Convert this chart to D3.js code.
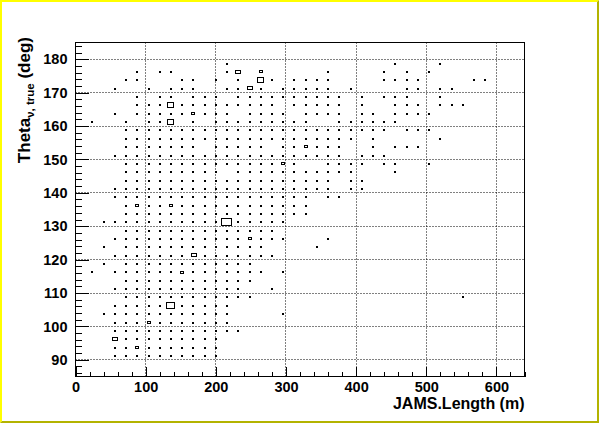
<!DOCTYPE html>
<html>
<head>
<meta charset="utf-8">
<script src="https://cdn.jsdelivr.net/npm/d3@7"></script>
<style>
  body { margin: 0; background: #fff; }
  svg { display: block; }
  text { font-family: "Liberation Sans", Arial, Helvetica, sans-serif; font-weight: bold; }
</style>
</head>
<body>
<div class="chart-div"></div>
<script>
// histogram binning of JAMS.Length (m) vs Theta_nu,true (deg)
var lengthMin = 0, lengthMax = 640, lengthBin = 16;
var thetaMin = 85, thetaMax = 185, thetaBin = 2.5;

var xTicks = [0, 100, 200, 300, 400, 500, 600];
var yTicks = [90, 100, 110, 120, 130, 140, 150, 160, 170, 180];

// filled cells, one entry per theta bin: [theta bin index, [length bin indices]]
var cellRows = [
  [37, [13, 28, 32]],
  [36, [5, 7, 8, 13, 14, 16, 22, 27, 29, 31]],
  [35, [4, 5, 9, 10, 12, 14, 16, 17, 19, 20, 21, 22, 27, 28, 29, 30, 35, 36]],
  [34, [3, 6, 8, 9, 10, 13, 14, 15, 16, 18, 19, 20, 21, 22, 24, 29, 30, 32, 33]],
  [33, [5, 7, 8, 10, 11, 12, 14, 15, 16, 17, 18, 19, 20, 21, 22, 23, 25, 27, 28, 29, 32]],
  [32, [5, 6, 7, 8, 9, 10, 11, 12, 13, 14, 15, 16, 17, 19, 20, 21, 22, 23, 25, 28, 29, 30, 32, 33, 34]],
  [31, [3, 5, 6, 7, 8, 9, 10, 11, 12, 13, 15, 16, 17, 18, 20, 21, 22, 23, 25, 26, 28, 29, 30, 31]],
  [30, [1, 4, 6, 7, 8, 10, 12, 13, 14, 15, 16, 17, 18, 19, 20, 23, 24, 25, 26, 27, 28]],
  [29, [4, 5, 6, 7, 8, 9, 10, 11, 12, 13, 14, 15, 16, 17, 18, 19, 20, 21, 22, 23, 24, 25, 26, 27, 29, 30, 31]],
  [28, [4, 5, 6, 7, 8, 9, 10, 11, 12, 13, 14, 15, 16, 17, 18, 19, 20, 21, 22, 23, 24, 26, 32]],
  [27, [4, 5, 6, 7, 8, 9, 10, 12, 13, 14, 15, 16, 18, 19, 20, 21, 22, 23, 26, 28, 29, 30]],
  [26, [3, 4, 5, 6, 7, 8, 9, 10, 11, 12, 13, 14, 15, 16, 17, 18, 19, 20, 21, 22, 23, 25, 26, 27]],
  [25, [4, 5, 6, 7, 8, 9, 10, 11, 12, 13, 14, 15, 16, 17, 18, 19, 22, 23, 24, 25, 27, 28, 31]],
  [24, [4, 5, 6, 7, 8, 9, 10, 11, 12, 14, 15, 16, 17, 18, 19, 20, 21, 22, 23, 24, 28]],
  [23, [4, 5, 6, 7, 8, 9, 10, 11, 12, 13, 14, 15, 16, 17, 18, 19, 20, 21, 22, 24, 25]],
  [22, [3, 4, 5, 6, 7, 8, 9, 10, 11, 12, 13, 14, 15, 16, 17, 18, 19, 20, 21, 22, 24, 25]],
  [21, [3, 4, 5, 6, 7, 8, 9, 10, 11, 12, 13, 14, 15, 16, 17, 18, 19, 20, 22, 23]],
  [20, [4, 5, 6, 7, 8, 9, 10, 11, 12, 13, 14, 15, 16, 17, 18, 19, 20]],
  [19, [4, 5, 6, 7, 8, 9, 10, 11, 12, 13, 14, 15, 16, 17, 18, 19, 20]],
  [18, [2, 3, 4, 5, 6, 7, 8, 9, 10, 11, 12, 13, 14, 15, 16, 17, 18]],
  [17, [4, 5, 6, 7, 8, 9, 10, 11, 12, 13, 14, 15, 16, 17]],
  [16, [3, 4, 5, 6, 7, 8, 9, 10, 11, 12, 13, 14, 15, 16, 17, 18, 22]],
  [15, [2, 4, 5, 6, 7, 8, 9, 10, 11, 12, 13, 14, 15, 16, 21]],
  [14, [3, 4, 5, 6, 7, 8, 9, 10, 11, 12, 13, 14, 15, 16, 17]],
  [13, [2, 4, 5, 6, 7, 8, 9, 10, 11, 12, 13, 14, 15]],
  [12, [1, 3, 4, 5, 6, 7, 8, 9, 10, 11, 12, 13, 14, 15, 16, 18]],
  [11, [4, 5, 6, 7, 8, 9, 10, 11, 12, 13, 14, 15]],
  [10, [3, 4, 5, 6, 7, 8, 9, 10, 11, 12, 13, 14, 17]],
  [9, [4, 5, 6, 7, 8, 9, 10, 11, 12, 13, 14, 15, 34]],
  [8, [3, 4, 5, 6, 7, 8, 9, 10, 11, 12, 13]],
  [7, [2, 3, 4, 5, 6, 7, 8, 9, 10, 11, 12, 13, 18]],
  [6, [3, 4, 5, 6, 7, 8, 9, 10, 11, 12, 13]],
  [5, [3, 4, 5, 6, 7, 8, 9, 10, 11, 12, 13, 14]],
  [4, [3, 4, 5, 6, 7, 8, 9, 10, 11, 12]],
  [3, [3, 4, 5, 6, 7, 8, 9, 10, 11, 12]],
  [2, [3, 4, 5, 6, 7, 8, 9, 10, 11, 12]]
];

// cells with more than one entry: [length bin, theta bin, content]
var bigCells = [
  [13, 18, 6], [8, 8, 5], [8, 30, 4], [8, 32, 4], [16, 35, 4],
  [15, 34, 3], [14, 36, 3], [10, 14, 3], [3, 4, 3],
  [9, 12, 2], [6, 6, 2], [10, 31, 2], [20, 27, 2], [16, 36, 2],
  [18, 25, 2], [15, 16, 2], [5, 3, 2], [5, 20, 2], [8, 20, 2]
];
var maxContent = 6;

function draw_box_plot() {
  var w = 599,
      h = 423,
      frame_left = 75.5,
      frame_right = 524.5,
      frame_top = 42.5,
      frame_bottom = 376.5,
      label_size = 14.5,
      title_size = 16,
      ytitle_size = 17;

  var svg = d3.select('.chart-div')
    .append('svg')
    .attr('width', w)
    .attr('height', h);

  // canvas border, light top/left and dark bottom/right
  svg.append('rect').attr('x', 0).attr('y', 0).attr('width', w).attr('height', h).style('fill', '#fff');
  svg.append('path')
    .attr('d', 'M0,0H' + w + 'L' + (w-2) + ',2H2V' + (h-2) + 'L0,' + h + 'Z')
    .style('fill', '#ffff00');
  svg.append('path')
    .attr('d', 'M' + w + ',' + h + 'H0L2,' + (h-2) + 'H' + (w-2) + 'V2L' + w + ',0Z')
    .style('fill', '#b3b300');

  var x = d3.scaleLinear().domain([lengthMin, lengthMax]).range([frame_left, frame_right]);
  var y = d3.scaleLinear().domain([thetaMin, thetaMax]).range([frame_bottom, frame_top]);

  // dotted grid at the major ticks
  svg.append('g').selectAll('line')
    .data(xTicks.filter(function(d) { return d > lengthMin; }))
    .enter().append('line')
    .attr('x1', function(d) { return Math.round(x(d) - 0.5) + 0.5; })
    .attr('x2', function(d) { return Math.round(x(d) - 0.5) + 0.5; })
    .attr('y1', frame_top)
    .attr('y2', frame_bottom)
    .style('stroke', '#000')
    .style('stroke-dasharray', '1,2');

  svg.append('g').selectAll('line')
    .data(yTicks)
    .enter().append('line')
    .attr('x1', frame_left)
    .attr('x2', frame_right)
    .attr('y1', function(d) { return Math.round(y(d) - 0.5) + 0.5; })
    .attr('y2', function(d) { return Math.round(y(d) - 0.5) + 0.5; })
    .style('stroke', '#000')
    .style('stroke-dasharray', '1,2');

  // expand the rows into cells
  var contentOf = {};
  bigCells.forEach(function(c) { contentOf[c[0] + '_' + c[1]] = c[2]; });
  var cells = [];
  cellRows.forEach(function(r) {
    r[1].forEach(function(i) {
      cells.push({
        len: lengthMin + (i + 0.5) * lengthBin,
        theta: thetaMin + (r[0] + 0.5) * thetaBin,
        z: contentOf[i + '_' + r[0]] || 1
      });
    });
  });

  var ratio = d3.scaleLinear().domain([0, maxContent]).range([0, 1]);
  var bin_w = x(lengthBin) - x(0),
      bin_h = y(thetaMin) - y(thetaMin + thetaBin);

  svg.append('g').selectAll('rect')
    .data(cells)
    .enter().append('rect')
    .attr('x', function(d) { return Math.round(x(d.len) - ratio(d.z)*bin_w/2) + 0.5; })
    .attr('y', function(d) { return Math.round(y(d.theta) - ratio(d.z)*bin_h/2) + 0.5; })
    .attr('width', function(d) { return Math.max(1, Math.round(ratio(d.z)*bin_w) - 1); })
    .attr('height', function(d) { return Math.max(1, Math.round(ratio(d.z)*bin_h) - 1); })
    .style('fill', 'none')
    .style('stroke', '#000')
    .style('shape-rendering', 'crispEdges');

  // axes, ticks pointing into the frame
  var xMinor = d3.range(lengthMin, lengthMax + 1, 20);
  var yMinor = d3.range(86, thetaMax + 1, 2);

  svg.append('g')
    .attr('transform', 'translate(0,' + frame_bottom + ')')
    .call(d3.axisBottom(x).tickValues(xMinor).tickSizeInner(-5).tickSizeOuter(0).tickFormat(''))
    .call(function(g) { g.select('.domain').remove(); });
  var xAxis = svg.append('g')
    .attr('class', 'x-axis')
    .attr('transform', 'translate(0,' + frame_bottom + ')')
    .call(d3.axisBottom(x).tickValues(xTicks).tickSizeInner(-10).tickSizeOuter(0).tickPadding(5));
  xAxis.select('.domain').remove();
  xAxis.selectAll('text').style('font-size', label_size + 'px').style('fill', '#000');

  svg.append('g')
    .attr('transform', 'translate(' + frame_left + ',0)')
    .call(d3.axisLeft(y).tickValues(yMinor).tickSizeInner(-6.7).tickSizeOuter(0).tickFormat(''))
    .call(function(g) { g.select('.domain').remove(); });
  var yAxis = svg.append('g')
    .attr('class', 'y-axis')
    .attr('transform', 'translate(' + frame_left + ',0)')
    .call(d3.axisLeft(y).tickValues(yTicks).tickSizeInner(-13.5).tickSizeOuter(0).tickPadding(8));
  yAxis.select('.domain').remove();
  yAxis.selectAll('text').style('font-size', label_size + 'px').style('fill', '#000');

  svg.selectAll('.tick line').style('stroke', '#000').style('shape-rendering', 'crispEdges');

  // frame
  svg.append('rect')
    .attr('x', frame_left)
    .attr('y', frame_top)
    .attr('width', frame_right - frame_left)
    .attr('height', frame_bottom - frame_top)
    .style('fill', 'none')
    .style('stroke', '#000');

  // axis titles
  svg.append('text')
    .attr('x', frame_right)
    .attr('y', 409)
    .attr('text-anchor', 'end')
    .style('font-size', title_size + 'px')
    .text('JAMS.Length (m)');

  var ytitle = svg.append('text')
    .attr('transform', 'translate(30,' + 37 + ') rotate(-90)')
    .attr('text-anchor', 'end')
    .style('font-size', ytitle_size + 'px');
  ytitle.append('tspan').text('Theta');
  ytitle.append('tspan').attr('dy', 4).style('font-size', '11.5px').text('\u03bd, true');
  ytitle.append('tspan').attr('dy', -4).text(' (deg)');
}

draw_box_plot();
</script>
</body>
</html>
